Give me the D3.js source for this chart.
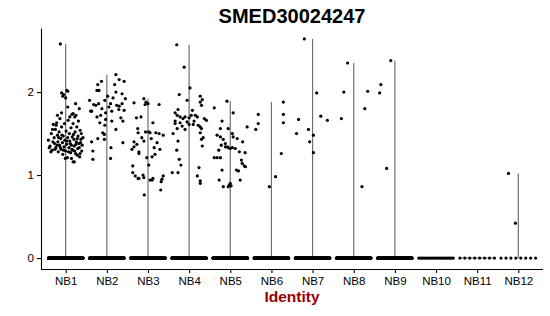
<!DOCTYPE html>
<html lang="en">
<head>
<meta charset="utf-8">
<title>SMED30024247</title>
<script src="https://cdn.jsdelivr.net/npm/d3@7"></script>
<style>
body { margin: 0; background: #fff; }
text { font-family: "Liberation Sans", Arial, sans-serif; }
</style>
</head>
<body>
<svg id="chart" width="550" height="316"></svg>
<script>
// identities on the x axis
const identities = ["NB1","NB2","NB3","NB4","NB5","NB6","NB7","NB8","NB9","NB10","NB11","NB12"];
// cells with zero expression per identity (approximate)
const zeroCounts = [600, 500, 500, 450, 500, 400, 350, 300, 250, 22, 8, 8];
const yTicks = [0, 1, 2];

// expressing cells: [jitter offset (fraction of a category), expression value]
const nb1 = [[-0.13,2.58],[-0.10,1.99],[-0.05,1.97],[0.03,2.02],[0.00,1.93],[-0.07,1.95],[0.05,2.01],
  [0.24,1.86],[0.33,1.80],[0.05,1.82],[0.15,1.73],[0.22,1.70],
  [-0.42,1.42],[-0.38,1.35],[-0.35,1.50],[-0.33,1.30],[-0.30,1.61],[-0.28,1.45],[-0.27,1.38],[-0.25,1.55],
  [-0.24,1.33],[-0.22,1.63],[-0.20,1.48],[-0.19,1.40],[-0.18,1.28],[-0.16,1.52],[-0.15,1.36],[-0.14,1.68],
  [-0.12,1.44],[-0.11,1.31],[-0.10,1.58],[-0.08,1.39],[-0.07,1.25],[-0.06,1.47],[-0.04,1.34],[-0.03,1.62],
  [-0.02,1.42],[0.00,1.29],[0.01,1.53],[0.02,1.37],[0.04,1.21],[0.05,1.45],[0.06,1.66],[0.08,1.33],
  [0.09,1.50],[0.10,1.41],[0.12,1.27],[0.13,1.57],[0.14,1.36],[0.16,1.46],[0.17,1.30],[0.18,1.62],
  [0.20,1.43],[0.21,1.35],[0.23,1.52],[0.24,1.26],[0.26,1.40],[0.27,1.58],[0.29,1.32],[0.30,1.47],
  [0.32,1.38],[0.34,1.22],[0.35,1.54],[0.37,1.43],[0.39,1.29],[0.40,1.36],[0.42,1.45],
  [-0.40,1.33],[-0.36,1.28],[-0.31,1.40],[-0.26,1.31],[-0.21,1.36],[-0.17,1.45],[-0.13,1.33],[-0.09,1.48],
  [-0.05,1.30],[0.03,1.41],[0.07,1.28],[0.11,1.38],[0.15,1.31],[0.19,1.49],[0.22,1.29],[0.25,1.37],
  [0.28,1.44],[0.33,1.33],[0.36,1.39],[0.38,1.50],
  [-0.32,1.55],[-0.23,1.60],[0.18,1.16],[0.21,1.16],[0.14,1.20],[0.28,1.24],[0.35,1.26],[-0.01,1.20],
  [0.10,1.70],[0.31,1.65],[0.25,1.72],[-0.20,1.72],[-0.10,1.75],[0.18,1.74]];
const nb2 = [[0.22,2.21],[-0.13,2.13],[-0.22,2.09],[-0.24,2.02],[-0.19,2.02],[0.19,2.09],[0.22,2.00],[0.37,1.98],
  [0.02,1.95],[-0.32,1.85],[-0.27,1.84],[-0.20,1.86],[-0.12,1.80],[-0.39,1.77],[-0.37,1.77],[0.09,1.86],
  [0.24,1.84],[0.30,1.83],[0.37,1.86],[-0.03,1.75],[0.12,1.77],[0.29,1.79],[-0.24,1.70],[-0.15,1.72],
  [-0.03,1.67],[0.12,1.65],[0.34,1.69],[0.39,1.65],[-0.17,1.63],[-0.05,1.60],[0.22,1.55],[-0.10,1.51],
  [-0.06,1.49],[-0.22,1.44],[-0.37,1.40],[-0.06,1.43],[0.39,1.39],[-0.34,1.29],[0.10,1.33],[0.09,1.20],
  [0.42,2.13],[0.30,2.15],[0.45,1.92],[0.42,1.78],[-0.42,1.90],[-0.05,1.90],[0.15,1.93],[0.05,1.82],[-0.34,1.19]];
const nb3 = [[-0.10,1.92],[-0.05,1.88],[-0.07,1.85],[0.00,1.86],[-0.34,1.87],[0.27,1.85],[-0.28,1.69],[-0.17,1.70],
  [0.12,1.63],[-0.25,1.56],[-0.24,1.51],[-0.06,1.52],[0.02,1.52],[0.05,1.51],[0.19,1.51],[0.27,1.50],
  [0.37,1.48],[-0.10,1.41],[-0.34,1.40],[-0.27,1.37],[-0.34,1.34],[0.22,1.39],[-0.39,1.31],[-0.22,1.28],
  [-0.22,1.26],[0.15,1.33],[0.29,1.31],[0.17,1.25],[0.10,1.22],[-0.03,1.21],[0.02,1.12],[-0.37,1.11],
  [-0.37,1.03],[-0.31,0.99],[-0.24,0.96],[-0.22,0.96],[-0.10,0.97],[0.05,0.94],[0.10,0.94],[0.37,0.99],
  [0.34,0.95],[0.32,0.92],[0.31,0.82],[-0.09,0.76],[-0.12,1.00],[0.12,0.96],[-0.15,1.45],[0.08,1.44]];
const nb4 = [[-0.30,2.57],[-0.12,2.30],[0.02,2.05],[-0.05,1.90],[-0.24,1.97],[0.27,1.95],[0.27,1.88],[0.30,1.84],
  [0.32,1.91],[-0.27,1.79],[-0.29,1.72],[-0.22,1.70],[-0.15,1.68],[-0.10,1.70],[0.00,1.69],[0.05,1.72],
  [0.15,1.72],[0.20,1.70],[0.37,1.68],[0.42,1.66],[-0.34,1.65],[-0.34,1.62],[-0.22,1.63],[-0.17,1.59],
  [-0.10,1.55],[0.00,1.61],[0.10,1.61],[0.22,1.60],[0.27,1.58],[0.30,1.56],[0.27,1.51],[-0.29,1.56],
  [0.34,1.45],[0.30,1.43],[-0.27,1.41],[0.32,1.35],[-0.24,1.19],[-0.20,1.12],[-0.41,1.03],[-0.27,1.03],
  [0.24,1.09],[0.20,0.99],[0.27,0.93],[0.27,0.90],[-0.34,1.75],[-0.05,1.64],[0.12,1.65],[-0.39,1.50],
  [-0.30,1.30],[0.08,1.78]];
const nb5 = [[-0.08,1.89],[-0.39,1.81],[0.07,1.75],[-0.20,1.65],[0.41,1.58],[-0.24,1.56],[-0.05,1.56],[-0.32,1.48],
  [-0.24,1.46],[0.05,1.50],[0.07,1.46],[0.17,1.44],[-0.17,1.43],[-0.12,1.38],[-0.05,1.33],[0.00,1.32],
  [0.05,1.33],[0.12,1.32],[-0.22,1.36],[-0.12,1.34],[-0.07,1.34],[0.22,1.28],[0.36,1.27],[-0.39,1.21],
  [-0.24,1.21],[-0.32,1.21],[0.27,1.18],[0.29,1.14],[0.34,1.11],[0.37,1.10],[-0.20,1.06],[0.15,1.06],
  [0.20,1.05],[0.24,0.94],[-0.27,0.94],[-0.02,0.88],[-0.05,0.86],[0.02,0.87],[-0.17,0.86],[0.00,0.90],
  [-0.28,1.30],[0.30,1.40]];
const nb6 = [[-0.32,1.73],[-0.32,1.62],[-0.38,1.55],[-0.05,0.86],[0.10,0.98],[0.24,1.26],[0.29,1.88],[0.29,1.73],[0.29,1.63]];
const nb7 = [[-0.20,2.64],[0.10,1.99],[-0.34,1.67],[0.20,1.71],[0.36,1.66],[-0.39,1.50],[-0.10,1.55],[0.02,1.48],[-0.07,1.40],[0.02,1.27]];
const nb8 = [[-0.15,2.35],[-0.24,2.00],[-0.30,1.68],[0.27,1.80],[0.34,2.01],[0.20,0.86]];
const nb9 = [[-0.10,2.38],[-0.34,2.09],[-0.37,1.99],[-0.20,1.08]];
const nb10 = [];
const nb11 = [];
const nb12 = [[-0.24,1.02],[-0.07,0.42]];
const expressed = [nb1, nb2, nb3, nb4, nb5, nb6, nb7, nb8, nb9, nb10, nb11, nb12];

const w = 550, h = 316;
const mLeft = 41, mRight = 543, mTop = 28, mBottom = 269;

const svg = d3.select("#chart");

const x = d3.scalePoint().domain(identities).range([mLeft, mRight]).padding(0.6);
const y = d3.scaleLinear().domain([-0.132, 2.772]).range([mBottom, mTop]);
const step = x.step();

// violins (collapsed to thin lines)
identities.forEach(function(id, i) {
  const vals = expressed[i].map(d => d[1]);
  const cx = x(id);
  if (vals.length) {
    svg.append("line")
      .attr("x1", cx).attr("x2", cx)
      .attr("y1", y(d3.max(vals))).attr("y2", y(0))
      .attr("stroke", "#707070").attr("stroke-width", 1.2);
  } else {
    svg.append("line")
      .attr("x1", cx - 0.4 * step).attr("x2", cx + 0.4 * step)
      .attr("y1", y(0)).attr("y2", y(0))
      .attr("stroke", "#707070").attr("stroke-width", 1);
  }
});

// zero-expression cells, spread across each category
const pts = svg.append("g");
identities.forEach(function(id, i) {
  const n = zeroCounts[i];
  const offs = d3.range(n).map(k => n > 1 ? -0.42 + 0.84 * k / (n - 1) : 0);
  pts.selectAll(null).data(offs).enter().append("circle")
    .attr("cx", d => x(id) + d * step)
    .attr("cy", y(0))
    .attr("r", 1.6)
    .attr("fill", "#000");
});

// expressing cells
identities.forEach(function(id, i) {
  pts.selectAll(null).data(expressed[i]).enter().append("circle")
    .attr("cx", d => x(id) + d[0] * step)
    .attr("cy", d => y(d[1]))
    .attr("r", 1.6)
    .attr("fill", "#000");
});

// axes
const yAxis = svg.append("g")
  .attr("transform", "translate(" + mLeft + ",0)")
  .call(d3.axisLeft(y).tickValues(yTicks).tickSize(4).tickSizeOuter(0).tickPadding(3).tickFormat(d3.format("d")));
const xAxis = svg.append("g")
  .attr("transform", "translate(0," + mBottom + ")")
  .call(d3.axisBottom(x).tickSize(4).tickSizeOuter(0).tickPadding(3.5));
xAxis.select(".domain").attr("d", "M" + mLeft + ",0.5H" + mRight);

[xAxis, yAxis].forEach(function(a) {
  a.select(".domain").attr("stroke", "#000").attr("stroke-width", 1.1);
  a.selectAll(".tick line").attr("stroke", "#000").attr("stroke-width", 1.1);
  a.selectAll(".tick text").attr("fill", "#000")
    .style("font-family", "'Liberation Sans', Arial, sans-serif").style("font-size", "11.5px");
});

// title
svg.append("text")
  .attr("x", (mLeft + mRight) / 2).attr("y", 22.7)
  .attr("text-anchor", "middle")
  .style("font-size", "20px").style("font-weight", "bold")
  .text("SMED30024247");

// x label
svg.append("text")
  .attr("x", (mLeft + mRight) / 2).attr("y", 302)
  .attr("text-anchor", "middle")
  .attr("fill", "#990000")
  .style("font-size", "15.5px").style("font-weight", "bold")
  .text("Identity");
</script>
</body>
</html>
